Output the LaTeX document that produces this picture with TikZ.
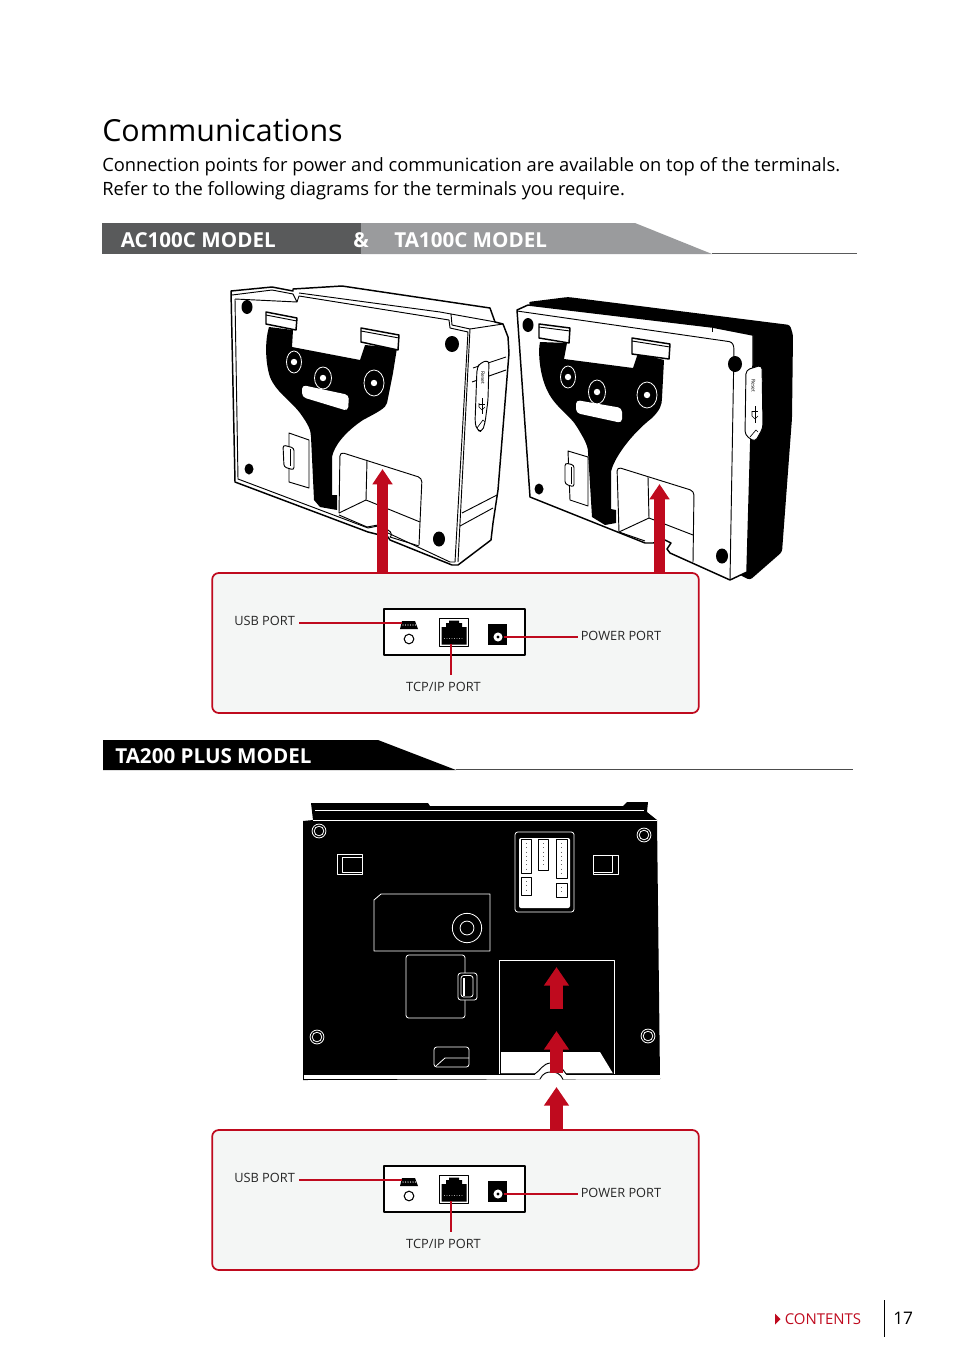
\documentclass[tikz,border=0pt]{standalone}
\usepackage{fontspec}
\setmainfont{Open Sans}
\usetikzlibrary{arrows.meta}
\usetikzlibrary{positioning}
\definecolor{portred}{HTML}{BF0A1E}
\definecolor{paneltint}{HTML}{F4F6F5}
\definecolor{bandgrey}{HTML}{595A5B}
\definecolor{bandlight}{HTML}{9A9B9D}
\tikzset{
	labeltext/.style={font=\fontsize{9.6}{12}\selectfont, inner sep=0pt, text=black!85},
	bandtext/.style={font=\fontsize{15.45}{18}\selectfont\bfseries, inner sep=0pt, text=white, anchor=west},
	redline/.style={draw=portred, line width=1.5pt},
	redarrow/.style={draw=portred, line width=8.4pt, line cap=butt, -{Triangle[length=11.5pt, width=14.5pt]}},
	bigarrow/.style={draw=portred, line width=9.8pt, line cap=butt, -{Triangle[length=14pt, width=18pt]}},
	outline/.style={draw=black, line width=1.1pt, line join=round},
	thin outline/.style={draw=black, line width=0.7pt, line join=round},
	whiteline/.style={draw=white, line width=0.6pt, line join=round}
}
\begin{document}
\begin{tikzpicture}[x=0.75pt, y=-0.75pt, line join=round]
	\useasboundingbox (0,0) rectangle (954,1363);
	% heading
	\node[anchor=base west, inner sep=0pt, font=\fontsize{22.8}{28}\selectfont] (title) at (102,142) {Communications};
	\node[anchor=base west, inner sep=0pt, font=\fontsize{13.75}{18}\selectfont] (introa) at (102,171) {Connection points for power and communication are available on top of the terminals.};
	\node[anchor=base west, inner sep=0pt, font=\fontsize{13.75}{18}\selectfont] (introb) at (102,195) {Refer to the following diagrams for the terminals you require.};
	% first band
	\fill[bandlight] (361,223) -- (635,223) -- (712,254) -- (361,254) -- cycle;
	\fill[bandgrey] (102,223) rectangle (361,254);
	\draw[bandgrey, line width=1pt] (712,253.5) -- (857,253.5);
	\node[bandtext] (bandac) at (120.5,240.5) {AC100C MODEL};
	\node[bandtext] (bandand) at (353,240.5) {\&};
	\node[bandtext] (bandta) at (394,240.5) {TA100C MODEL};
	% second band
	\fill[black] (103,740) -- (378,740) -- (456,770) -- (103,770) -- cycle;
	\draw[black!70, line width=0.6pt] (456,769.5) -- (853,769.5);
	\node[bandtext] (bandplus) at (115,756.5) {TA200 PLUS MODEL};

	% left terminal
	\draw[outline, fill=white] (231,291) -- (272,287) -- (293,291) -- (293,289) -- (342,286) -- (490,308) -- (495,322) -- (503,324) -- (508,337) -- (509,353) -- (498,490) -- (493,523) -- (491,540) -- (458,565) -- (452,565) -- (390,540) -- (388,537) -- (368,532) -- (235,482) -- cycle;
	\draw[thin outline] (232,295) -- (272,290) -- (293,294) -- (297,302);
	\draw[thin outline] (235,299) -- (297,302) -- (299,296) -- (449,320) -- (450,328) -- (468,332) -- (455,562);
	\draw[thin outline] (299,293) -- (440,312) -- (451,314) -- (452,325) -- (470,329) -- (458,562);
	\draw[thin outline] (235,299) -- (238,479) -- (368,528) -- (378,526);
	\draw[thin outline] (388,533) -- (450,562) -- (455,562);
	\draw[thin outline] (451,314) -- (490,321) -- (495,322);
	\draw[thin outline] (470,329) -- (503,324);
	\draw[thin outline] (473,368) -- (506,357);
	\draw[thin outline] (472,382) -- (506,370);
	\draw[thin outline] (462,513) -- (497,495);
	\draw[thin outline] (460,526) -- (493,508);
	\fill[black] (269,327) .. controls (265,340) and (265,362) .. (270,377) .. controls (276,392) and (290,400) .. (300,413) .. controls (308,424) and (311,430) .. (311,437) -- (314,500) -- (320,507) -- (337,510) -- (337,495) -- (332,495) -- (332,457) .. controls (334,446) and (345,432) .. (363,420) .. controls (378,412) and (386,408) .. (387,403) -- (393,373) -- (397,348) -- (365,345) -- (360,360) -- (292,347) -- (293,330) -- cycle;
	\draw[outline, fill=white] (266,312) -- (297,318) -- (296,330) -- (266,324) -- cycle;
	\draw[thin outline] (266,315) -- (297,321);
	\draw[outline, fill=white] (361,328) -- (399,335) -- (398,350) -- (361,342) -- cycle;
	\draw[thin outline] (361,331) -- (399,338);
	\foreach \hx/\hy/\hrx/\hry in {294/362/7.5/11, 323/378/8.5/11, 374/383/10/13}{
		\draw[whiteline] (\hx,\hy) ellipse [x radius=\hrx*0.75pt, y radius=\hry*0.75pt];
		\fill[white] (\hx,\hy) circle [radius=2.4pt];
	}
	\fill[white, rounded corners=3pt] (302,385) -- (349,395) -- (348,411) -- (302,397) -- cycle;
	\foreach \hx/\hy/\hrx/\hry in {247/307/5.5/7, 452/344/7/8, 249/469/4.5/5.5, 439/539/6/7.5}{
		\fill[black] (\hx,\hy) ellipse [x radius=\hrx*0.75pt, y radius=\hry*0.75pt];
	}
	\draw[thin outline] (289,433) -- (309,440) -- (309,488) -- (289,482) -- cycle;
	\draw[thin outline, fill=white, rounded corners=2pt] (283,445) -- (294,448) -- (294,470) -- (284,467) -- cycle;
	\draw[thin outline] (290,449) -- (290,466);
	\draw[thin outline, rounded corners=3pt] (339,513) -- (340,452) -- (422,478) -- (419,545);
	\draw[thin outline] (367,460) -- (366,500) -- (339,513);
	\draw[thin outline] (366,500) -- (420,522);
	\draw[thin outline] (339,515) -- (367,527) -- (378,525);
	\draw[thin outline] (388,530) .. controls (392,532) and (392,536) .. (390,537);
	\draw[thin outline] (390,537) -- (419,546);
	\draw[thin outline, fill=white, rounded corners=3pt] (477,368) -- (480,363) -- (489,360) -- (488,400) -- (485,423) -- (482,432) -- (477,430) -- (475,423) -- cycle;
	\node[rotate=-90, inner sep=0pt, font=\fontsize{3.8}{4}\selectfont] (resetac) at (483,378) {Reset};
	\draw[line width=0.5pt] (482,398) -- (482,414);
	\draw[line width=0.5pt] (479,404) -- (485,404);
	\draw[line width=0.5pt] (479,403) -- (479,407) -- (482,410) -- (485,407);
	\draw[line width=0.5pt] (477,428) -- (483,420) -- (485,422);

	% right terminal
	\fill[black, rounded corners=2pt] (528,302) -- (568,297) -- (790,325) -- (793,335) -- (792,418) -- (782,552) -- (750,580) -- (740,575) -- cycle;
	\draw[outline, fill=white] (517,310) -- (528,305) -- (712,327) -- (753,335) -- (753,365) -- (747,572) -- (730,580) -- (670,553) -- (667,549) -- (671,543) -- (665,540) -- (653,543) -- (645,543) -- (530,497) -- cycle;
	\draw[thin outline, rounded corners=2pt] (517,311) -- (732,342) -- (734,347) -- (730,580);
	\draw[thin outline] (712,327) -- (712,332);
	\draw[thin outline] (619,532) -- (645,541);
	\fill[black] (540,342) .. controls (538,350) and (539,375) .. (548,392) .. controls (556,408) and (570,415) .. (577,427) .. controls (583,437) and (588,445) .. (588,452) -- (592,517) -- (605,525) -- (616,523) -- (616,510) -- (611,509) -- (611,472) .. controls (613,460) and (630,435) .. (652,418) .. controls (660,410) and (662,405) .. (662,398) -- (664,360) -- (638,353) -- (633,368) -- (564,359) -- (567,343) -- cycle;
	\draw[outline, fill=white] (539,324) -- (570,328) -- (569,343) -- (539,338) -- cycle;
	\draw[thin outline] (539,327) -- (570,331);
	\draw[outline, fill=white] (632,338) -- (670,344) -- (669,359) -- (632,354) -- cycle;
	\draw[thin outline] (632,341) -- (670,347);
	\foreach \hx/\hy/\hrx/\hry in {568/377/7.5/11, 597/392/8.5/12, 647/395/10/13}{
		\draw[whiteline] (\hx,\hy) ellipse [x radius=\hrx*0.75pt, y radius=\hry*0.75pt];
		\fill[white] (\hx,\hy) circle [radius=2.4pt];
	}
	\fill[white, rounded corners=3pt] (576,400) -- (622,408) -- (622,423) -- (576,413) -- cycle;
	\foreach \hx/\hy/\hrx/\hry in {528/325/5.5/7, 735/364/7/8, 539/489/4.5/5.5, 722/556/6/7.5}{
		\fill[black] (\hx,\hy) ellipse [x radius=\hrx*0.75pt, y radius=\hry*0.75pt];
	}
	\draw[thin outline] (568,451) -- (588,457) -- (588,506) -- (570,500) -- cycle;
	\draw[thin outline, fill=white, rounded corners=2pt] (565,463) -- (574,465) -- (574,487) -- (565,484) -- cycle;
	\draw[thin outline] (571,467) -- (571,484);
	\draw[thin outline, rounded corners=3pt] (619,532) -- (617,467) -- (694,491) -- (693,562);
	\draw[thin outline] (648,477) -- (649,518) -- (619,532);
	\draw[thin outline] (649,518) -- (693,535);
	\draw[thin outline, fill=white, rounded corners=3pt] (746,370) -- (762,365) -- (763,428) -- (755,442) -- (745,435) -- cycle;
	\node[rotate=-90, inner sep=0pt, font=\fontsize{3.8}{4}\selectfont] (resetta) at (753.5,386) {Reset};
	\draw[line width=0.5pt] (755,406) -- (755,423);
	\draw[line width=0.5pt] (752,411) -- (758,411);
	\draw[line width=0.5pt] (752,411) -- (752,416) -- (755,419) -- (758,416);
	\draw[line width=0.5pt] (750,437) -- (756,430) -- (758,432);

	% lower terminal
	\fill[black] (303,821) -- (313,820) -- (311,803) -- (428,803) -- (430,806) -- (623,806) -- (627,802) -- (648,802) -- (647,812) -- (657,820) -- (660,1079) -- (303,1080) -- cycle;
	\draw[whiteline] (315,810) -- (644,810);
	\draw[whiteline] (313,820) -- (657,820);
	\fill[white] (303.5,1074.5) rectangle (659.5,1078.5);
	\foreach \hx/\hy in {319/831, 644/835, 317/1037, 648/1036}{
		\draw[whiteline] (\hx,\hy) circle [radius=5.2pt];
		\draw[whiteline] (\hx,\hy) circle [radius=3.6pt];
	}
	\draw[whiteline] (337,854) rectangle (362,874);
	\draw[whiteline] (342,857) rectangle (362,872);
	\draw[whiteline] (593,855) rectangle (618,874);
	\draw[whiteline] (593,855) rectangle (612,872);
	\draw[whiteline, rounded corners=2pt] (515,832) rectangle (574,912);
	\fill[white, rounded corners=1.5pt] (519,838) rectangle (570,908);
	\foreach \cxa/\cya/\cxb/\cyb in {521/839/531/873, 538/839/548/870, 556/839/567/878, 521/877/531/895, 556/883/567/897}{
		\draw[thin outline, fill=white] (\cxa,\cya) rectangle (\cxb,\cyb);
	}
	\foreach \dx/\dya/\dyb in {526/843/871, 543/843/867, 561.5/843/875, 526/881/892, 561.5/887/894}{
		\draw[black!60, line width=0.6pt, dash pattern=on 0.6pt off 2.6pt] (\dx,\dya) -- (\dx,\dyb);
	}
	\draw[whiteline] (381,894) -- (490,894) -- (490,951) -- (374,951) -- (374,900) -- cycle;
	\draw[whiteline] (467,928) circle [radius=11pt];
	\draw[whiteline] (467,928) circle [radius=5.2pt];
	\draw[whiteline, rounded corners=2pt] (406,955) rectangle (465,1018);
	\draw[whiteline, fill=black, rounded corners=2pt] (458,973) rectangle (477,1000);
	\draw[whiteline, rounded corners=2pt] (461,975.5) rectangle (473,997);
	\fill[white] (462.5,978) rectangle (465,996);
	\draw[whiteline, rounded corners=2pt] (434,1047) rectangle (469,1067);
	\draw[whiteline] (436,1066) -- (445,1058) -- (469,1058);
	\draw[whiteline] (499,1074) -- (499,960) -- (614,960) -- (614,1074);
	\fill[white] (501,1052) -- (600,1052) -- (613,1073.5) -- (501,1073.5) -- cycle;
	% notch in the lower edge
	\fill[white] (540,1080) .. controls (543,1073) and (547,1072) .. (551,1072) .. controls (556,1072) and (560,1073) .. (563,1080) -- cycle;
	\fill[white] (535,1073) .. controls (540,1070) and (543,1063) .. (551,1063) .. controls (558,1063) and (562,1068) .. (566,1073) -- (566,1077) -- (535,1077) -- cycle;
	\draw[thin outline] (501,1073.8) -- (535,1073.8) .. controls (540,1071) and (543,1063) .. (551,1063) .. controls (558,1063) and (562,1068) .. (566,1073.8) -- (613,1073.8);
	\draw[thin outline] (540,1079) .. controls (543,1073) and (547,1072) .. (551,1072) .. controls (556,1072) and (560,1073) .. (563,1079.5);

	% port panels
	\foreach \n/\off in {a/0, b/557}{
		\begin{scope}[yshift=-\off*0.75pt]
			\node[draw=portred, line width=1.3pt, fill=paneltint, rounded corners=5pt, minimum width=365pt, minimum height=105pt, inner sep=0pt] (panel\n) at (455.5,643) {};
			\node[draw=black, line width=1.6pt, fill=white, minimum width=106pt, minimum height=34.5pt, inner sep=0pt] (portbox\n) at (454.5,632) {};
			\node[labeltext, anchor=west] (usblabel\n) at (234,620.5) {USB PORT};
			\node[labeltext, anchor=west] (powerlabel\n) at (580.5,635.5) {POWER PORT};
			\node[labeltext] (tcplabel\n) at (443.5,686.5) {TCP/IP PORT};
			% usb socket
			\fill[black] (402,621) -- (415,621) -- (418,629) -- (400,629) -- cycle;
			\foreach \px in {403,405.5,...,416}{
				\fill[white] (\px,625) circle [radius=0.55pt];
			}
			\draw[black, line width=0.8pt] (409,639) circle [radius=3.6pt];
			% network socket
			\node[draw=black, line width=0.7pt, fill=white, minimum width=22pt, minimum height=20.5pt, inner sep=0pt] (rj\n) at (454,632.5) {};
			\fill[black] (441.5,644.5) -- (441.5,627) -- (446,627) -- (446,623) -- (449,623) -- (449,620.5) -- (459,620.5) -- (459,623) -- (462,623) -- (462,627) -- (466.5,627) -- (466.5,644.5) -- cycle;
			\foreach \px in {444.5,447,...,464}{
				\fill[white] (\px,638.5) circle [radius=0.35pt];
			}
			% power socket
			\node[fill=black, minimum width=14.5pt, minimum height=15.5pt, inner sep=0pt] (jack\n) at (497.5,634.5) {};
			\fill[white] (498,637) circle [radius=3.4pt];
			\fill[black] (498,637) circle [radius=1.2pt];
			% leads
			\coordinate (usbend\n) at (402,623);
			\coordinate (powerend\n) at (504,637);
			\coordinate (tcpend\n) at (451,644);
			\draw[redline] ([xshift=3pt]usblabel\n.east |- usbend\n) -- (usbend\n);
			\draw[redline] (powerend\n) -- ([xshift=-2.2pt]powerlabel\n.west |- powerend\n);
			\draw[redline] (tcpend\n) -- (451,675);
		\end{scope}
	}
	% red arrows
	\coordinate (tipac) at (382.5,469);
	\coordinate (tipta) at (659.5,484);
	\coordinate (tipone) at (556.5,967);
	\coordinate (tiptwo) at (556.5,1031);
	\coordinate (tipthree) at (556.5,1087);
	\draw[redarrow] (panela.north -| tipac) -- (tipac);
	\draw[redarrow] (panela.north -| tipta) -- (tipta);
	\draw[bigarrow] (panelb.north -| tipthree) -- (tipthree);
	\draw[bigarrow] (556.5,1073) -- (tiptwo);
	\draw[bigarrow] (556.5,1009) -- (tipone);

	% footer
	\fill[portred] (775,1313.5) -- (780.5,1319) -- (775,1324.5) -- cycle;
	\node[anchor=west, inner sep=0pt, text=portred, font=\fontsize{11.2}{14}\selectfont] (contents) at (784.5,1319) {CONTENTS};
	\draw[black, line width=0.6pt] (884.5,1300) -- (884.5,1337);
	\node[anchor=west, inner sep=0pt, font=\fontsize{13}{16}\selectfont] (pagenum) at (893,1318) {17};
\end{tikzpicture}
\end{document}
